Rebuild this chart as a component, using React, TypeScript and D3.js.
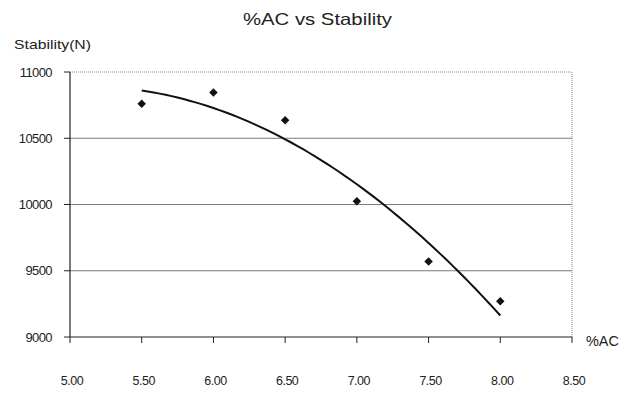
import React from "react";
import * as d3 from "d3";

// Asphalt content (%AC) against Marshall stability (N)
const acPercent = [5.5, 6.0, 6.5, 7.0, 7.5, 8.0];
const stability = [10760, 10845, 10635, 10025, 9570, 9270];

const xTicks = [5.0, 5.5, 6.0, 6.5, 7.0, 7.5, 8.0, 8.5];
const yTicks = [9000, 9500, 10000, 10500, 11000];

const W = 624;
const H = 393;
const M = { left: 70, right: 52, top: 72, bottom: 56 };

// Least-squares quadratic fit y = a + b*x + c*x^2
function quadFit(xs: number[], ys: number[]) {
  const n = xs.length;
  let s1 = 0, s2 = 0, s3 = 0, s4 = 0, t0 = 0, t1 = 0, t2 = 0;
  for (let i = 0; i < n; i++) {
    const x = xs[i], y = ys[i];
    s1 += x; s2 += x * x; s3 += x * x * x; s4 += x * x * x * x;
    t0 += y; t1 += x * y; t2 += x * x * y;
  }
  const A = [
    [n, s1, s2, t0],
    [s1, s2, s3, t1],
    [s2, s3, s4, t2],
  ];
  for (let i = 0; i < 3; i++) {
    for (let k = i + 1; k < 3; k++) {
      const f = A[k][i] / A[i][i];
      for (let j = i; j < 4; j++) A[k][j] -= f * A[i][j];
    }
  }
  const r = [0, 0, 0];
  for (let i = 2; i >= 0; i--) {
    let s = A[i][3];
    for (let j = i + 1; j < 3; j++) s -= A[i][j] * r[j];
    r[i] = s / A[i][i];
  }
  return (x: number) => r[0] + r[1] * x + r[2] * x * x;
}

export default function App() {
  const x = d3.scaleLinear().domain([5.0, 8.5]).range([M.left, W - M.right]);
  const y = d3.scaleLinear().domain([9000, 11000]).range([H - M.bottom, M.top]);

  const fit = quadFit(acPercent, stability);
  const x0 = d3.min(acPercent)!;
  const x1 = d3.max(acPercent)!;
  const trendPts = d3.range(0, 61).map((i) => {
    const v = x0 + ((x1 - x0) * i) / 60;
    return [v, fit(v)] as [number, number];
  });
  const line = d3
    .line<[number, number]>()
    .x((d) => x(d[0]))
    .y((d) => y(d[1]))
    .curve(d3.curveMonotoneX);

  // square rotated 45° gives an even diamond marker
  const marker = d3.symbol().type(d3.symbolSquare).size(36)();

  const font = "Arial, 'Liberation Sans', sans-serif";
  const left = x(5.0);
  const right = x(8.5);
  const top = y(11000);
  const bottom = y(9000);

  return (
    <svg
      width={W}
      height={H}
      style={{ position: "absolute", left: 0, top: 0, background: "#fff" }}
      fontFamily={font}
    >
      <rect width={W} height={H} fill="#fff" />
      <text x={243} y={25} fontSize={16.5} fill="#222" textLength={149} lengthAdjust="spacingAndGlyphs">
        %AC vs Stability
      </text>
      <text x={14} y={48.5} fontSize={13} fill="#222" textLength={77} lengthAdjust="spacingAndGlyphs">
        Stability(N)
      </text>

      {/* gridlines */}
      {yTicks
        .filter((t) => t !== 9000 && t !== 11000)
        .map((t) => (
          <line key={t} x1={left} x2={right} y1={y(t)} y2={y(t)} stroke="#7a7a7a" strokeWidth={1} />
        ))}

      {/* top and right frame */}
      <line x1={left} x2={right} y1={top} y2={top} stroke="#8a8a8a" strokeWidth={1} strokeDasharray="1 1" />
      <line x1={right} x2={right} y1={top} y2={bottom} stroke="#8a8a8a" strokeWidth={1} strokeDasharray="1 1" />

      {/* axes */}
      <line x1={left} x2={left} y1={top} y2={bottom} stroke="#222" strokeWidth={1.2} />
      <line x1={left} x2={right} y1={bottom} y2={bottom} stroke="#222" strokeWidth={1.2} />

      {yTicks.map((t) => (
        <g key={t}>
          <line x1={left - 6} x2={left} y1={y(t)} y2={y(t)} stroke="#222" />
          <text x={52} y={y(t) + 4.5} textAnchor="end" fontSize={13} fill="#222" letterSpacing={-0.6}>
            {t}
          </text>
        </g>
      ))}

      {xTicks.map((t) => (
        <g key={t}>
          <line x1={x(t)} x2={x(t)} y1={bottom} y2={bottom + 6} stroke="#222" />
          <text x={x(t) + 2} y={385} textAnchor="middle" fontSize={12.5} fill="#222" letterSpacing={-0.5}>
            {t.toFixed(2)}
          </text>
        </g>
      ))}

      <text x={586} y={345.5} fontSize={15} fill="#222" textLength={33} lengthAdjust="spacingAndGlyphs">
        %AC
      </text>

      <path d={line(trendPts) ?? ""} fill="none" stroke="#111" strokeWidth={2} />

      {acPercent.map((v, i) => (
        <path
          key={v}
          d={marker ?? ""}
          transform={`translate(${x(v)},${y(stability[i])}) rotate(45)`}
          fill="#111"
        />
      ))}
    </svg>
  );
}
